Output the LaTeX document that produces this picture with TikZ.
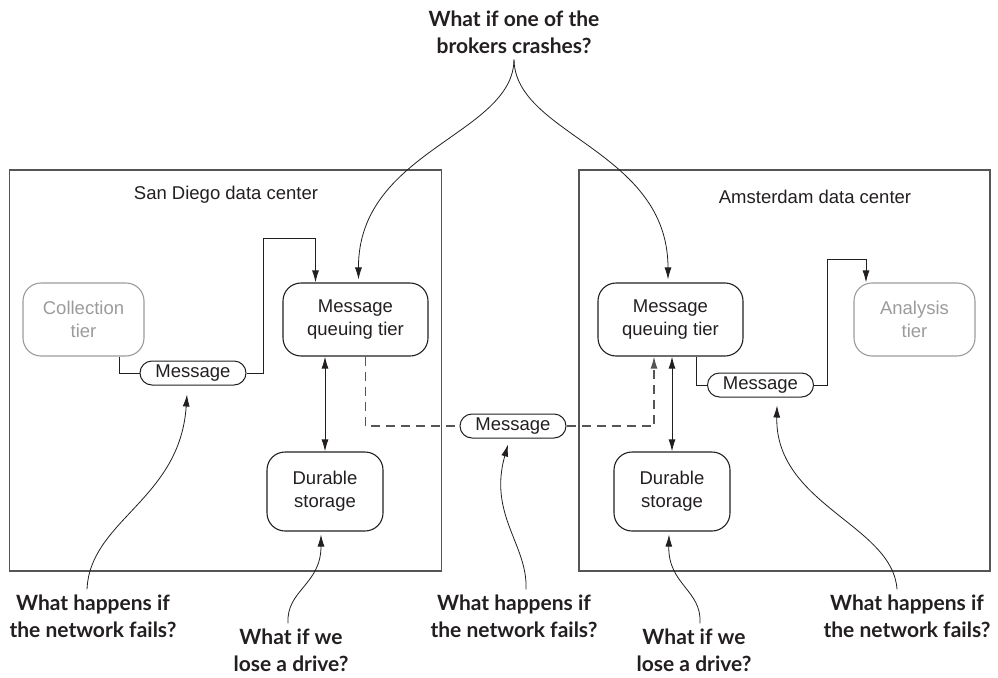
\documentclass[tikz,border=0pt]{standalone}
\usepackage{fontspec}
\setmainfont{Liberation Sans}
\newfontfamily\qfont{Lato}
\usetikzlibrary{arrows.meta}
\usetikzlibrary{positioning}

\definecolor{ink}{HTML}{231F20}
\definecolor{fade}{HTML}{9B9B9B}
\definecolor{rim}{HTML}{555555}

\tikzset{
  tier/.style={draw=ink, line width=1.1pt, rounded corners=18pt, align=center,
    text=ink, minimum height=73pt, inner sep=0pt},
  faded/.style={tier, draw=fade, text=fade, minimum width=121pt},
  pill/.style={draw=ink, line width=1pt, rounded corners=12pt, minimum width=106pt,
    minimum height=24pt, inner sep=0pt, text=ink},
  dcbox/.style={draw=rim, line width=1.4pt, minimum width=432pt, minimum height=401pt,
    inner sep=0pt},
  question/.style={font=\qfont\bfseries\fontsize{21}{27}\selectfont, align=center,
    text=ink, inner sep=0pt},
  flow/.style={ink, line width=1pt},
  tip/.style={-{Latex[length=12pt,width=7pt]}},
  hint/.style={ink, line width=0.8pt, tip},
  wan/.style={rim, line width=1.2pt, dash pattern=on 9pt off 6pt}
}

\begin{document}
\begin{tikzpicture}[x=1pt, y=-1pt, font=\fontsize{18.5}{23}\selectfont]

\useasboundingbox (0,0) rectangle (998,677);

% Data centers
\node[dcbox] (sd) at (225.5,370.5) {};
\node[dcbox, minimum width=411pt] (ams) at (784.5,370.5) {};
\node[text=ink] (sdname) at (226,195) {San Diego data center};
\node[text=ink] (amsname) at (815,197) {Amsterdam data center};

% Tiers
\node[faded] (coll) at (83.5,319.5) {Collection\\tier};
\node[tier, minimum width=145pt] (mqL) at (355.5,319.5) {Message\\queuing tier};
\node[tier, minimum width=145pt] (mqR) at (670.5,319.5) {Message\\queuing tier};
\node[faded] (ana) at (914.5,319.5) {Analysis\\tier};

% Durable storage
\node[tier, minimum width=116pt, minimum height=79pt] (durL) at (325,491.5) {Durable\\storage};
\node[tier, minimum width=116pt, minimum height=79pt] (durR) at (672,491.5) {Durable\\storage};

% Messages in flight
\node[pill] (msgL) at (193,373) {Message};
\node[pill] (msgM) at (513,426) {Message};
\node[pill] (msgR) at (760.5,385) {Message};

% Local flow
\draw[flow] ([xshift=36pt]coll.south) |- (msgL.west);
\draw[flow, tip] (msgL.east) -- ++(17,0) |- ([xshift=-40pt,yshift=44pt]mqL.north)
  -- ([xshift=-40pt]mqL.north);
\draw[flow] ([xshift=25.5pt]mqR.south) |- (msgR.west);
\draw[flow, tip] (msgR.east) -- ++(13,0) |- ([xshift=-48.5pt,yshift=23pt]ana.north)
  -- ([xshift=-48.5pt]ana.north);

% Replication across data centers
\draw[wan] ([xshift=10pt]mqL.south) |- (msgM.west);
\draw[wan, tip] (msgM.east) -| ([xshift=-16.5pt]mqR.south);

% Storage
\draw[flow, {Latex[length=12pt,width=7pt]}-{Latex[length=12pt,width=7pt]}]
  (durL.north |- mqL.south) -- (durL.north);
\draw[flow, {Latex[length=12pt,width=7pt]}-{Latex[length=12pt,width=7pt]}]
  (durR.north |- mqR.south) -- (durR.north);

% Questions
\node[question] (qCrash) at (514,32) {What if one of the\\brokers crashes?};
\node[question] (qNetL) at (93,616) {What happens if\\the network fails?};
\node[question] (qNetM) at (514,616) {What happens if\\the network fails?};
\node[question] (qNetR) at (907,616) {What happens if\\the network fails?};
\node[question] (qDrvL) at (291,650) {What if we\\lose a drive?};
\node[question] (qDrvR) at (694,650) {What if we\\lose a drive?};

\draw[hint] ([yshift=-6pt]qCrash.south) .. controls (513,135) and (358,150) .. ([xshift=3pt,yshift=3pt]mqL.north);
\draw[hint] ([yshift=-6pt]qCrash.south) .. controls (515,135) and (668,150) .. ([xshift=-2.5pt,yshift=3pt]mqR.north);
\draw[hint] ([xshift=-6pt,yshift=5pt]qNetL.north) .. controls (90,520) and (180,500) .. ([xshift=-6pt,yshift=-9pt]msgL.south);
\draw[hint] ([xshift=12pt,yshift=5pt]qNetM.north) .. controls (528,545) and (488,515) .. ([xshift=-5pt,yshift=-6pt]msgM.south);
\draw[hint] ([xshift=-10pt,yshift=5pt]qNetR.north) .. controls (893,525) and (775,505) .. ([xshift=16.5pt,yshift=-8pt]msgR.south);
\draw[hint] ([xshift=-3pt,yshift=5pt]qDrvL.north) .. controls (286,590) and (321,585) .. ([xshift=-4pt,yshift=-3pt]durL.south);
\draw[hint] ([xshift=6pt,yshift=5pt]qDrvR.north) .. controls (702,590) and (668,585) .. ([xshift=-3pt,yshift=-3pt]durR.south);

\end{tikzpicture}
\end{document}
